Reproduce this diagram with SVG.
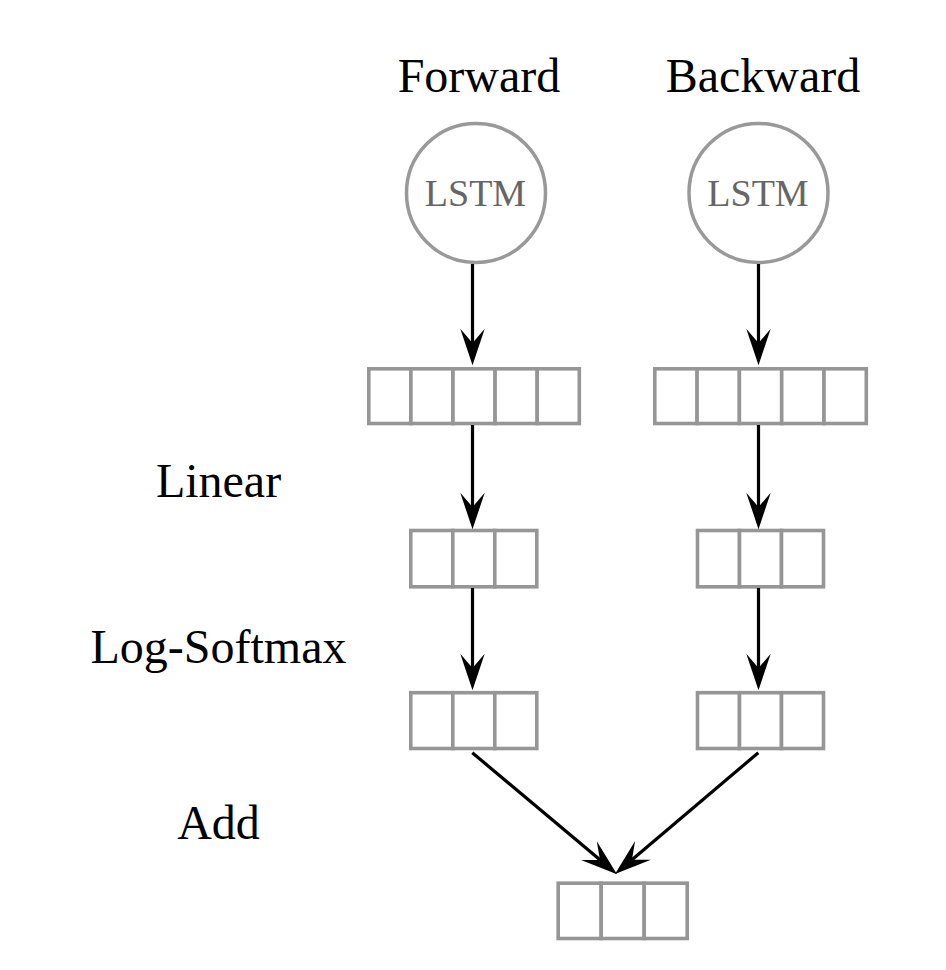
<svg xmlns="http://www.w3.org/2000/svg" width="946" height="970" viewBox="0 0 946 970">
<style>
.lbl{font-family:"Liberation Serif","Times New Roman",serif;font-size:48px;fill:#000;text-anchor:middle}
.lstm{font-family:"Liberation Serif","Times New Roman",serif;font-size:38px;fill:#666;text-anchor:middle}
.circ{fill:#fff;stroke:#999;stroke-width:3.5}
.cell{fill:#fff;stroke:#969696;stroke-width:3.6}
.edge{fill:none;stroke:#000;stroke-width:3.2;marker-end:url(#ah)}
</style>
<defs>
<marker id="ah" markerUnits="userSpaceOnUse" orient="auto" refX="0" refY="0" markerWidth="40" markerHeight="30" viewBox="-22 -12 36 24" overflow="visible">
<path d="M12,0 L-21,-11 L-8,0 L-21,11 Z" fill="#000"/>
</marker>
</defs>
<rect width="946" height="970" fill="#fff"/>
<g id="labels">
<text class="lbl" x="479" y="92">Forward</text>
<text class="lbl" x="763" y="92">Backward</text>
<text class="lbl" x="218.5" y="497">Linear</text>
<text class="lbl" x="218.5" y="663">Log-Softmax</text>
<text class="lbl" x="218.5" y="839">Add</text>
</g>
<g id="lstm-fwd">
<circle class="circ" cx="476" cy="193" r="69.5"/>
<text class="lstm" x="475.5" y="206">LSTM</text>
</g>
<g id="lstm-bwd">
<circle class="circ" cx="758.5" cy="193" r="69.5"/>
<text class="lstm" x="758" y="206">LSTM</text>
</g>
<g id="hid-fwd">
<rect class="cell" x="368.8" y="368.8" width="42.1" height="54.7"/>
<rect class="cell" x="410.9" y="368.8" width="42.1" height="54.7"/>
<rect class="cell" x="453" y="368.8" width="42.1" height="54.7"/>
<rect class="cell" x="495.1" y="368.8" width="42.1" height="54.7"/>
<rect class="cell" x="537.2" y="368.8" width="42.1" height="54.7"/>
</g>
<g id="hid-bwd">
<rect class="cell" x="654.8" y="368.8" width="42.3" height="54.7"/>
<rect class="cell" x="697.1" y="368.8" width="42.3" height="54.7"/>
<rect class="cell" x="739.4" y="368.8" width="42.3" height="54.7"/>
<rect class="cell" x="781.7" y="368.8" width="42.3" height="54.7"/>
<rect class="cell" x="824" y="368.8" width="42.3" height="54.7"/>
</g>
<g id="lin-fwd">
<rect class="cell" x="410.8" y="530.5" width="42" height="56.3"/>
<rect class="cell" x="452.8" y="530.5" width="42" height="56.3"/>
<rect class="cell" x="494.8" y="530.5" width="42" height="56.3"/>
</g>
<g id="lin-bwd">
<rect class="cell" x="697.5" y="530.5" width="42" height="56.3"/>
<rect class="cell" x="739.5" y="530.5" width="42" height="56.3"/>
<rect class="cell" x="781.5" y="530.5" width="42" height="56.3"/>
</g>
<g id="sm-fwd">
<rect class="cell" x="410.8" y="692.7" width="42" height="55.8"/>
<rect class="cell" x="452.8" y="692.7" width="42" height="55.8"/>
<rect class="cell" x="494.8" y="692.7" width="42" height="55.8"/>
</g>
<g id="sm-bwd">
<rect class="cell" x="697.5" y="692.7" width="42" height="55.8"/>
<rect class="cell" x="739.5" y="692.7" width="42" height="55.8"/>
<rect class="cell" x="781.5" y="692.7" width="42" height="55.8"/>
</g>
<g id="sum">
<rect class="cell" x="558.2" y="883.2" width="43" height="55.3"/>
<rect class="cell" x="601.2" y="883.2" width="43" height="55.3"/>
<rect class="cell" x="644.2" y="883.2" width="43" height="55.3"/>
</g>
<g id="connectors">
<path class="edge" d="M472.5,264 L472.5,352"/>
<path class="edge" d="M758.5,264 L758.5,352"/>
<path class="edge" d="M472.5,425 L472.5,516"/>
<path class="edge" d="M758.5,425 L758.5,516"/>
<path class="edge" d="M472.5,588 L472.5,677"/>
<path class="edge" d="M758.5,588 L758.5,677"/>
<path class="edge" d="M472.3,752.7 L606.8,865.6"/>
<path class="edge" d="M758.3,752.7 L625.2,865.5"/>
</g>
</svg>
